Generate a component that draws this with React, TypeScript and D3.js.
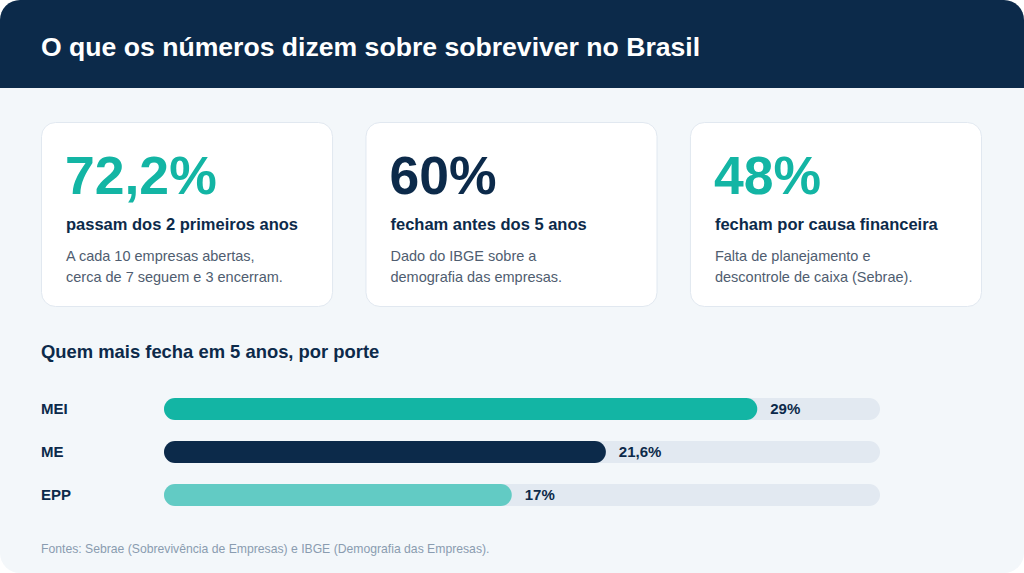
import * as d3 from "d3";
import { useEffect, useRef } from "react";

const statValues = ["72,2%", "60%", "48%"];
const statHeadlines = [
  "passam dos 2 primeiros anos",
  "fecham antes dos 5 anos",
  "fecham por causa financeira",
];
const statNotes = [
  ["A cada 10 empresas abertas,", "cerca de 7 seguem e 3 encerram."],
  ["Dado do IBGE sobre a", "demografia das empresas."],
  ["Falta de planejamento e", "descontrole de caixa (Sebrae)."],
];

const sizes = ["MEI", "ME", "EPP"];
const closedIn5Years = [29, 21.6, 17];
const valueLabels = ["29%", "21,6%", "17%"];

const W = 1024;
const H = 573;
const NAVY = "#0c2a4a";
const TEAL = "#13b5a4";
const TEAL_LIGHT = "#62cbc4";
const TRACK = "#e2e9f1";
const FONT = "'Liberation Sans', Arial, sans-serif";

export default function App() {
  const ref = useRef<SVGSVGElement>(null);

  useEffect(() => {
    const svg = d3.select(ref.current);
    svg.selectAll("*").remove();
    svg.attr("viewBox", `0 0 ${W} ${H}`).attr("font-family", FONT);

    const defs = svg.append("defs");
    defs
      .append("clipPath")
      .attr("id", "frame")
      .append("rect")
      .attr("width", W)
      .attr("height", H)
      .attr("rx", 20);

    const root = svg.append("g").attr("clip-path", "url(#frame)");
    root.append("rect").attr("width", W).attr("height", H).attr("fill", "#f3f7fa");
    root.append("rect").attr("width", W).attr("height", 88).attr("fill", NAVY);

    root
      .append("text")
      .attr("x", 41)
      .attr("y", 56)
      .attr("font-size", 26.6)
      .attr("font-weight", 700)
      .attr("fill", "#ffffff")
      .text("O que os números dizem sobre sobreviver no Brasil");

    // stat cards
    const cardX = d3.scaleBand<number>().domain([0, 1, 2]).range([41, 981]).paddingInner(0.103);
    const valueColors = [TEAL, NAVY, TEAL];

    statValues.forEach((v, i) => {
      const g = root.append("g").attr("transform", `translate(${cardX(i)},122)`);
      g.append("rect")
        .attr("x", 0.5)
        .attr("y", 0.5)
        .attr("width", cardX.bandwidth())
        .attr("height", 184)
        .attr("rx", 14)
        .attr("fill", "#ffffff")
        .attr("stroke", "#e1e8f0");
      g.append("text")
        .attr("x", 24)
        .attr("y", 72)
        .attr("font-size", 53.5)
        .attr("font-weight", 700)
        .attr("fill", valueColors[i])
        .text(v);
      g.append("text")
        .attr("x", 25)
        .attr("y", 108)
        .attr("font-size", 16.5)
        .attr("font-weight", 700)
        .attr("fill", NAVY)
        .text(statHeadlines[i]);
      statNotes[i].forEach((line, j) => {
        g.append("text")
          .attr("x", 25)
          .attr("y", 139 + j * 21)
          .attr("font-size", 14.5)
          .attr("fill", "#4f5d70")
          .text(line);
      });
    });

    root
      .append("text")
      .attr("x", 41)
      .attr("y", 358)
      .attr("font-size", 18.4)
      .attr("font-weight", 700)
      .attr("fill", NAVY)
      .text("Quem mais fecha em 5 anos, por porte");

    // bars
    const x = d3.scaleLinear().domain([0, 35]).range([164, 880]);
    const y = d3.scalePoint<string>().domain(sizes).range([409, 495]);
    const barH = 22;
    const barColors = [TEAL, NAVY, TEAL_LIGHT];

    sizes.forEach((s, i) => {
      const cy = y(s)!;
      root
        .append("text")
        .attr("x", 41)
        .attr("y", cy)
        .attr("dy", "0.35em")
        .attr("font-size", 15)
        .attr("font-weight", 700)
        .attr("fill", NAVY)
        .text(s);
      root
        .append("rect")
        .attr("x", x(0))
        .attr("y", cy - barH / 2)
        .attr("width", x(35) - x(0))
        .attr("height", barH)
        .attr("rx", barH / 2)
        .attr("fill", TRACK);
      root
        .append("rect")
        .attr("x", x(0))
        .attr("y", cy - barH / 2)
        .attr("width", x(closedIn5Years[i]) - x(0))
        .attr("height", barH)
        .attr("rx", barH / 2)
        .attr("fill", barColors[i]);
      root
        .append("text")
        .attr("x", x(closedIn5Years[i]) + 13)
        .attr("y", cy)
        .attr("dy", "0.35em")
        .attr("font-size", 15)
        .attr("font-weight", 700)
        .attr("fill", NAVY)
        .text(valueLabels[i]);
    });

    root
      .append("text")
      .attr("x", 41)
      .attr("y", 553)
      .attr("font-size", 12.2)
      .attr("fill", "#8a9cb0")
      .text("Fontes: Sebrae (Sobrevivência de Empresas) e IBGE (Demografia das Empresas).");
  }, []);

  return (
    <svg
      ref={ref}
      width={W}
      height={H}
      style={{ position: "absolute", left: 0, top: 0, display: "block" }}
    />
  );
}
